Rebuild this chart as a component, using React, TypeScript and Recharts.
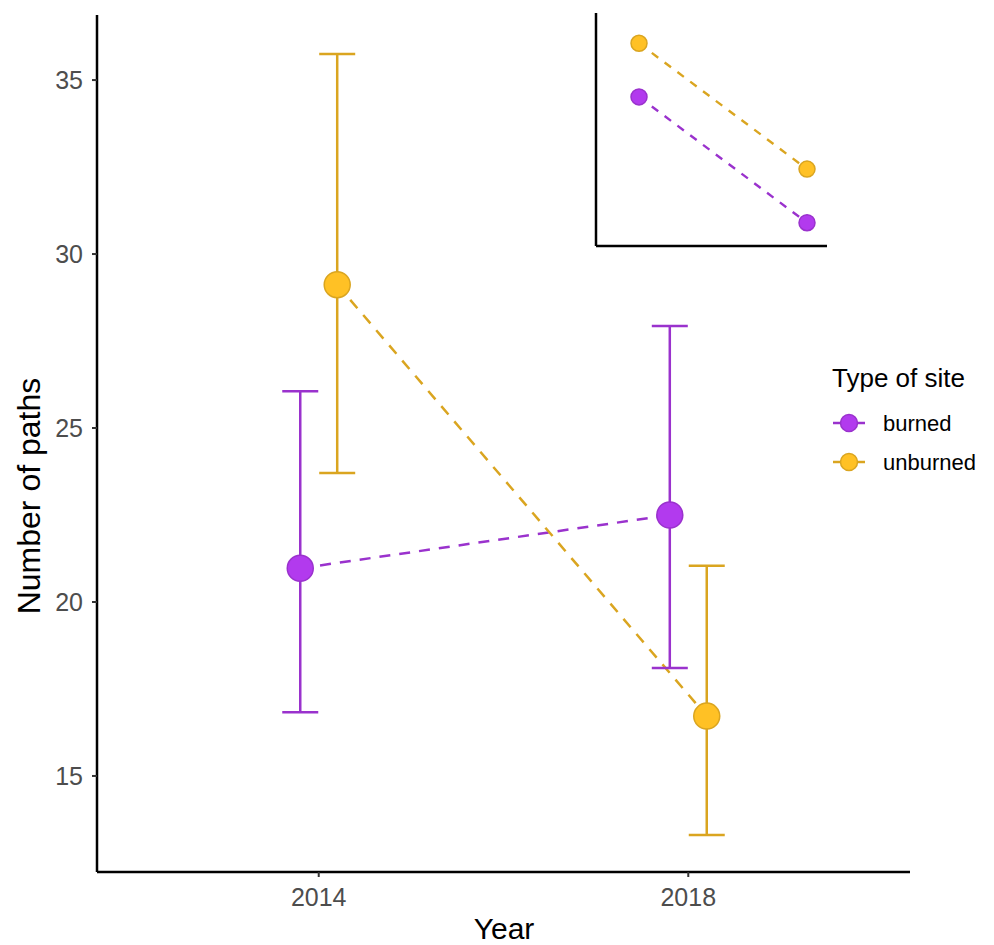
import React from 'react';
import { ComposedChart, Line, Scatter, XAxis, YAxis, ErrorBar, Label, Legend } from 'recharts';

const years = ['2014', '2018'];
const burnedMean = [20.97, 22.5];
const burnedLow = [16.83, 18.1];
const burnedHigh = [26.06, 27.93];
const unburnedMean = [29.12, 16.72];
const unburnedLow = [23.71, 13.3];
const unburnedHigh = [35.75, 21.04];
const yTicks = [15, 20, 25, 30, 35];

const insetBurned = [6.4, 1.0];
const insetUnburned = [8.7, 3.3];

const seriesNames = ['burned', 'unburned'];

const PURPLE_FILL = '#B23AEE';
const PURPLE_LINE = '#9A32CD';
const GOLD_FILL = '#FFC125';
const GOLD_LINE = '#DAA520';

const FONT = '"Liberation Sans", Arial, Helvetica, sans-serif';
const DODGE = 0.05;

const buildSeries = (means: number[], lows: number[], highs: number[], shift: number) =>
  means.map((m, i) => ({
    x: i + 1 + shift,
    year: years[i],
    mean: m,
    err: [m - lows[i], highs[i] - m],
  }));

const burnedData = buildSeries(burnedMean, burnedLow, burnedHigh, -DODGE);
const unburnedData = buildSeries(unburnedMean, unburnedLow, unburnedHigh, DODGE);

const insetBurnedData = insetBurned.map((v, i) => ({ x: i + 1, mean: v }));
const insetUnburnedData = insetUnburned.map((v, i) => ({ x: i + 1, mean: v }));

const makeDot = (fill: string, stroke: string, r: number) => (props: any) =>
  <circle cx={props.cx} cy={props.cy} r={r} fill={fill} stroke={stroke} strokeWidth={1.5} />;

const LegendContent = () => (
  <svg width={174} height={130} style={{ display: 'block' }}>
    <text x={12} y={32} fontSize={26} fontFamily={FONT} fill="#000">Type of site</text>
    {seriesNames.map((name, i) => {
      const cy = 68 + i * 39;
      const fill = i === 0 ? PURPLE_FILL : GOLD_FILL;
      const stroke = i === 0 ? PURPLE_LINE : GOLD_LINE;
      return (
        <g key={name}>
          <line x1={13} x2={45} y1={cy} y2={cy} stroke={stroke} strokeWidth={2.5} />
          <circle cx={29} cy={cy} r={8.5} fill={fill} stroke={stroke} strokeWidth={1.5} />
          <text x={63} y={cy + 8} fontSize={22} fontFamily={FONT} fill="#000">{name}</text>
        </g>
      );
    })}
  </svg>
);

export default function App() {
  return (
    <div style={{ position: 'absolute', left: 0, top: 0, width: 994, height: 945, background: '#fff' }}>
      <ComposedChart width={994} height={945} margin={{ top: 15, right: 84, bottom: 0, left: 0 }}>
        <XAxis
          dataKey="x"
          type="number"
          domain={[0.4, 2.6]}
          ticks={[1, 2]}
          allowDataOverflow
          tickFormatter={(v: number) => years[Math.round(v) - 1]}
          height={73}
          stroke="#000"
          axisLine={{ stroke: '#000', strokeWidth: 2.5 }}
          tickLine={{ stroke: '#333', strokeWidth: 2 }}
          tickSize={5}
          tickMargin={11}
          tick={{ fill: '#4D4D4D', fontSize: 25, fontFamily: FONT }}
        >
          <Label
            content={() => (
              <text x={504} y={939} textAnchor="middle" fontSize={30} fontFamily={FONT} fill="#000">Year</text>
            )}
          />
        </XAxis>
        <YAxis
          dataKey="mean"
          type="number"
          domain={[12.24, 36.87]}
          ticks={yTicks}
          allowDataOverflow
          width={97}
          stroke="#000"
          axisLine={{ stroke: '#000', strokeWidth: 2.5 }}
          tickLine={{ stroke: '#333', strokeWidth: 2 }}
          tickSize={5}
          tickMargin={9}
          tick={{ fill: '#4D4D4D', fontSize: 25, fontFamily: FONT }}
        >
          <Label
            content={() => (
              <text x={40} y={496} transform="rotate(-90, 40, 496)" textAnchor="middle" fontSize={32} fontFamily={FONT} fill="#000">Number of paths</text>
            )}
          />
        </YAxis>
        <Legend
          layout="vertical"
          align="center"
          verticalAlign="middle"
          wrapperStyle={{ position: 'absolute', left: 820, top: 355, width: 174, height: 130 }}
          content={() => <LegendContent />}
        />
        <Line data={burnedData} dataKey="mean" stroke={PURPLE_LINE} strokeWidth={2.5} strokeDasharray="11 9" dot={false} activeDot={false} isAnimationActive={false} legendType="none" />
        <Line data={unburnedData} dataKey="mean" stroke={GOLD_LINE} strokeWidth={2.5} strokeDasharray="11 9" dot={false} activeDot={false} isAnimationActive={false} legendType="none" />
        <Scatter data={burnedData} dataKey="mean" fill={PURPLE_FILL} shape={makeDot(PURPLE_FILL, PURPLE_LINE, 13)} isAnimationActive={false} name="burned">
          <ErrorBar dataKey="err" direction="y" width={18} stroke={PURPLE_LINE} strokeWidth={2.5} isAnimationActive={false} />
        </Scatter>
        <Scatter data={unburnedData} dataKey="mean" fill={GOLD_FILL} shape={makeDot(GOLD_FILL, GOLD_LINE, 13)} isAnimationActive={false} name="unburned">
          <ErrorBar dataKey="err" direction="y" width={18} stroke={GOLD_LINE} strokeWidth={2.5} isAnimationActive={false} />
        </Scatter>
      </ComposedChart>
      <div style={{ position: 'absolute', left: 560, top: 0 }}>
        <ComposedChart width={280} height={260} margin={{ top: 13, right: 13, bottom: 0, left: 0 }}>
          <XAxis dataKey="x" type="number" domain={[0.744, 2.119]} allowDataOverflow height={14} tick={false} tickLine={false} stroke="#000" axisLine={{ stroke: '#000', strokeWidth: 2.5 }} />
          <YAxis dataKey="mean" type="number" domain={[0, 10]} allowDataOverflow width={36} tick={false} tickLine={false} stroke="#000" axisLine={{ stroke: '#000', strokeWidth: 2.5 }} />
          <Line data={insetUnburnedData} dataKey="mean" stroke={GOLD_LINE} strokeWidth={2.4} strokeDasharray="8 8" dot={false} activeDot={false} isAnimationActive={false} />
          <Line data={insetBurnedData} dataKey="mean" stroke={PURPLE_LINE} strokeWidth={2.4} strokeDasharray="8 8" dot={false} activeDot={false} isAnimationActive={false} />
          <Scatter data={insetUnburnedData} dataKey="mean" shape={makeDot(GOLD_FILL, GOLD_LINE, 8)} isAnimationActive={false} />
          <Scatter data={insetBurnedData} dataKey="mean" shape={makeDot(PURPLE_FILL, PURPLE_LINE, 8)} isAnimationActive={false} />
        </ComposedChart>
      </div>
    </div>
  );
}
